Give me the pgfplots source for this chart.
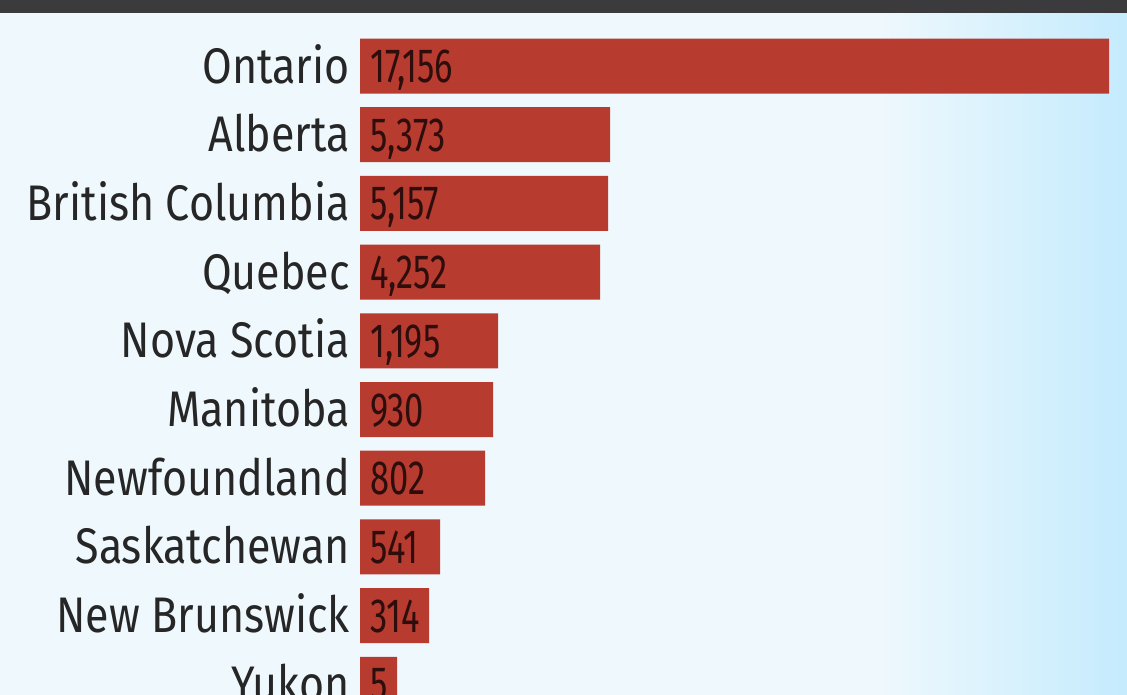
\documentclass[border=0pt]{standalone}
\usepackage{fontspec}
\setmainfont{Fira Sans}
\newfontfamily\labfont[FakeStretch=0.86]{Fira Sans}
\newfontfamily\valfont[FakeStretch=0.72]{Fira Sans}
\usepackage{pgfplots}
\usepackage{pgfplotstable}
\pgfplotsset{compat=1.18}
\definecolor{barred}{HTML}{B83B30}
\definecolor{bgleft}{HTML}{EEF8FD}
\definecolor{bgright}{HTML}{C5EBFD}
\definecolor{headgray}{HTML}{3B3B3D}
\definecolor{labtext}{HTML}{262626}
\definecolor{valtext}{HTML}{2E0E0C}

% idx: row; length: drawn bar length (px); value: label shown on bar
\pgfplotstableread{
idx length value
0 749 17156
1 250 5373
2 248 5157
3 240 4252
4 138 1195
5 133 930
6 125 802
7 80 541
8 69 314
9 37 5
}\provdata

\begin{document}
\begin{tikzpicture}
\path[use as bounding box] (0,0) rectangle (1127bp,695bp);
\clip (0,0) rectangle (1127bp,695bp);
\fill[bgleft] (0,0) rectangle (881bp,695bp);
\shade[left color=bgleft, right color=bgright, shading angle=90] (880bp,0) rectangle (1127bp,695bp);
\begin{axis}[
  at={(360bp,695bp)}, anchor=north west,
  scale only axis, width=767bp, height=695bp,
  xmin=0, xmax=767,
  ymin=-0.9607, ymax=9.1557, y dir=reverse,
  axis line style={draw=none},
  major tick length=0pt,
  xtick=\empty,
  ytick={0,...,9},
  yticklabels={Ontario,Alberta,British Columbia,Quebec,Nova Scotia,Manitoba,Newfoundland,Saskatchewan,New Brunswick,Yukon},
  yticklabel style={font=\labfont\fontsize{50bp}{52bp}\selectfont, text=labtext, anchor=base east, inner sep=0pt, xshift=-10bp, yshift=-17bp},
  clip=true,
  /pgf/number format/assume math mode=true,
]
\addplot[xbar, bar width=55bp, fill=barred, draw=none] table[x=length, y=idx] {\provdata};
\addplot[only marks, mark=*, mark size=0pt, draw=none, fill=none,
  nodes near coords, point meta=explicit,
  nodes near coords style={anchor=base west, inner sep=0pt, xshift=10bp, yshift=-16.5bp,
    font=\valfont\fontsize{48bp}{50bp}\selectfont, text=valtext,
    /pgf/number format/.cd, fixed, precision=0, 1000 sep={,}, assume math mode=true}]
  table[x expr=0, y=idx, meta=value] {\provdata};
\end{axis}
\fill[headgray] (0,682bp) rectangle (1127bp,695bp);
\end{tikzpicture}
\end{document}
